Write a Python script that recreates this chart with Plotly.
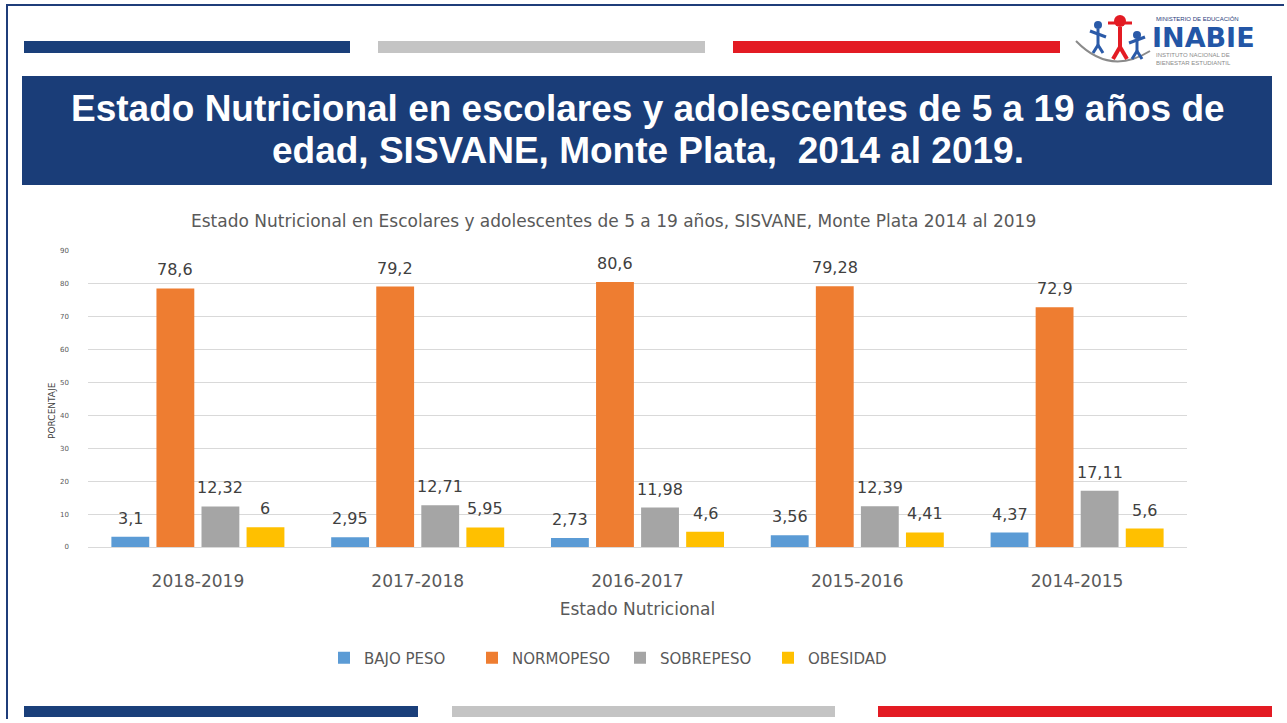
import plotly.graph_objects as go

W, H = 1287, 723

categories = ["2018-2019", "2017-2018", "2016-2017", "2015-2016", "2014-2015"]
bajo_peso = [3.1, 2.95, 2.73, 3.56, 4.37]
normopeso = [78.6, 79.2, 80.6, 79.28, 72.9]
sobrepeso = [12.32, 12.71, 11.98, 12.39, 17.11]
obesidad = [6, 5.95, 4.6, 4.41, 5.6]
series_names = ["BAJO PESO", "NORMOPESO", "SOBREPESO", "OBESIDAD"]
series_values = [bajo_peso, normopeso, sobrepeso, obesidad]
series_colors = ["#5b9bd5", "#ee7d31", "#a5a5a5", "#ffc000"]
y_ticks = [0, 10, 20, 30, 40, 50, 60, 70, 80, 90]

CHART_FONT = "DejaVu Sans"
BARGAP = 0.18
BARGROUPGAP = 0.16
X0_PX, X1_PX = 88, 1187


def px_x(p):
    return p / W


def px_y(p):
    q = (p - 3) / 0.989
    return 1 - q / H


def fmt(v):
    return ("%g" % v).replace(".", ",")


fig = go.Figure()
for name, vals, col in zip(series_names, series_values, series_colors):
    fig.add_trace(go.Bar(
        x=categories, y=vals, name=name,
        marker=dict(color=col, line=dict(width=0)),
    ))

fig.update_layout(
    width=W, height=H,
    margin=dict(l=0, r=0, t=0, b=0),
    paper_bgcolor="white", plot_bgcolor="white",
    barmode="group", bargap=BARGAP, bargroupgap=BARGROUPGAP,
    showlegend=True,
    legend=dict(orientation="h", x=px_x(324), xanchor="left",
                y=px_y(657), yanchor="middle",
                font=dict(family=CHART_FONT, size=15, color="#595959"),
                itemwidth=30, entrywidth=103, entrywidthmode="pixels",
                traceorder="normal"),
    xaxis=dict(domain=[px_x(X0_PX), px_x(X1_PX)],
               tickfont=dict(family=CHART_FONT, size=17, color="#595959"),
               showline=True, linecolor="#d9d9d9", linewidth=1,
               ticks="", showgrid=False, ticklabelstandoff=19,
               title=dict(text="Estado Nutricional", standoff=12,
                          font=dict(family=CHART_FONT, size=17, color="#595959"))),
    yaxis=dict(domain=[px_y(546), px_y(250)], range=[0, 90],
               tickvals=y_ticks, ticktext=[str(t) for t in y_ticks],
               tickfont=dict(family=CHART_FONT, size=7, color="#595959"),
               gridcolor="#d9d9d9", gridwidth=1, zeroline=False,
               ticklabelstandoff=18, showline=False),
    font=dict(family=CHART_FONT),
)

shapes = []
# page frame
shapes.append(dict(type="line", xref="paper", yref="paper", x0=px_x(7), x1=px_x(7),
                   y0=px_y(3), y1=0, line=dict(color="#1f3d7a", width=2)))
shapes.append(dict(type="line", xref="paper", yref="paper", x0=px_x(7), x1=px_x(1284),
                   y0=px_y(4), y1=px_y(4), line=dict(color="#1f3d7a", width=2)))
# top stripes
for x0, x1, c in [(24, 350, "#1a3f7a"), (378, 705, "#c4c4c4"), (733, 1060, "#e31b23")]:
    shapes.append(dict(type="rect", xref="paper", yref="paper", x0=px_x(x0), x1=px_x(x1),
                       y0=px_y(52), y1=px_y(40), fillcolor=c, line=dict(width=0)))
# bottom stripes
for x0, x1, c in [(24, 418, "#1a3f7a"), (452, 835, "#c4c4c4"), (878, 1272, "#e31b23")]:
    shapes.append(dict(type="rect", xref="paper", yref="paper", x0=px_x(x0), x1=px_x(x1),
                       y0=px_y(716), y1=px_y(705), fillcolor=c, line=dict(width=0)))
# header band
shapes.append(dict(type="rect", xref="paper", yref="paper", x0=px_x(22), x1=px_x(1272),
                   y0=px_y(184), y1=px_y(75), fillcolor="#1a3d78", line=dict(width=0)))
# logo: arc and figures
shapes.append(dict(type="path", xref="paper", yref="paper",
                   path="M %f %f Q %f %f %f %f" % (px_x(1076), px_y(40), px_x(1110), px_y(75),
                                                   px_x(1150), px_y(50)),
                   line=dict(color="#8a8a8a", width=2)))
for cx, cy, r, c in [(1098, 24, 4, "#2a5aa8"), (1120, 20, 6, "#e31b23"), (1137, 34, 4, "#2a5aa8")]:
    shapes.append(dict(type="circle", xref="paper", yref="paper",
                       x0=px_x(cx - r), x1=px_x(cx + r), y0=px_y(cy + r), y1=px_y(cy - r),
                       fillcolor=c, line=dict(width=0)))
for xa, ya, xb, yb, c, wdt in [
    (1098, 28, 1098, 44, "#2a5aa8", 3), (1090, 30, 1106, 36, "#2a5aa8", 3),
    (1093, 52, 1098, 44, "#2a5aa8", 3), (1103, 52, 1098, 44, "#2a5aa8", 3),
    (1120, 26, 1120, 46, "#e31b23", 4), (1108, 22, 1132, 22, "#e31b23", 3),
    (1113, 58, 1120, 46, "#e31b23", 4), (1127, 58, 1120, 46, "#e31b23", 4),
    (1137, 38, 1137, 50, "#2a5aa8", 3), (1129, 42, 1145, 36, "#2a5aa8", 3),
    (1132, 58, 1137, 50, "#2a5aa8", 3), (1142, 58, 1137, 50, "#2a5aa8", 3),
]:
    shapes.append(dict(type="line", xref="paper", yref="paper", x0=px_x(xa), x1=px_x(xb),
                       y0=px_y(ya), y1=px_y(yb), line=dict(color=c, width=wdt)))
fig.update_layout(shapes=shapes)

ann = []
# data labels above bars (offset within group derived from bar gaps)
cat_px = (X1_PX - X0_PX) / len(categories)
slot_px = cat_px * (1 - BARGAP) / len(series_names)
for i, vals in enumerate(series_values):
    xs = (i - (len(series_names) - 1) / 2) * slot_px
    for cat, v in zip(categories, vals):
        ann.append(dict(text=fmt(v), xref="x", yref="y", x=cat, y=v, xshift=xs, yshift=7,
                        xanchor="center", yanchor="bottom", showarrow=False,
                        font=dict(family=CHART_FONT, size=16, color="#404040")))

header_lines = ["Estado Nutricional en escolares y adolescentes de 5 a 19 años de",
                "edad, SISVANE, Monte Plata,  2014 al 2019."]
for line, yy in zip(header_lines, [108, 150]):
    ann.append(dict(text="<b>%s</b>" % line,
                    xref="paper", yref="paper", x=px_x(648), y=px_y(yy), xanchor="center", yanchor="middle",
                    showarrow=False, align="center",
                    font=dict(family="Liberation Sans", size=37, color="white")))
ann.append(dict(text="Estado Nutricional en Escolares y adolescentes de 5 a 19 años, SISVANE, Monte Plata 2014 al 2019",
                xref="paper", yref="paper", x=px_x(613), y=px_y(220), xanchor="center", yanchor="middle",
                showarrow=False, font=dict(family=CHART_FONT, size=17, color="#595959")))
ann.append(dict(text="PORCENTAJE", xref="paper", yref="paper", x=px_x(52), y=px_y(410),
                xanchor="center", yanchor="middle", textangle=-90, showarrow=False,
                font=dict(family=CHART_FONT, size=9, color="#404040")))
# logo text
ann.append(dict(text="MINISTERIO DE EDUCACIÓN", xref="paper", yref="paper", x=px_x(1154), y=px_y(18),
                xanchor="left", yanchor="middle", showarrow=False,
                font=dict(family="Liberation Sans", size=6, color="#1f3d7a")))
ann.append(dict(text="<b>INABIE</b>", xref="paper", yref="paper", x=px_x(1150), y=px_y(37),
                xanchor="left", yanchor="middle", showarrow=False,
                font=dict(family="DejaVu Sans", size=27, color="#2356a6")))
ann.append(dict(text="INSTITUTO NACIONAL DE<br>BIENESTAR ESTUDIANTIL", xref="paper", yref="paper",
                x=px_x(1154), y=px_y(58), xanchor="left", yanchor="middle", showarrow=False, align="left",
                font=dict(family="Liberation Sans", size=6, color="#8a8a8a")))
fig.update_layout(annotations=ann)

fig.write_html("out.html", config={"displayModeBar": False},
               post_script="document.body.style.margin='0';")
